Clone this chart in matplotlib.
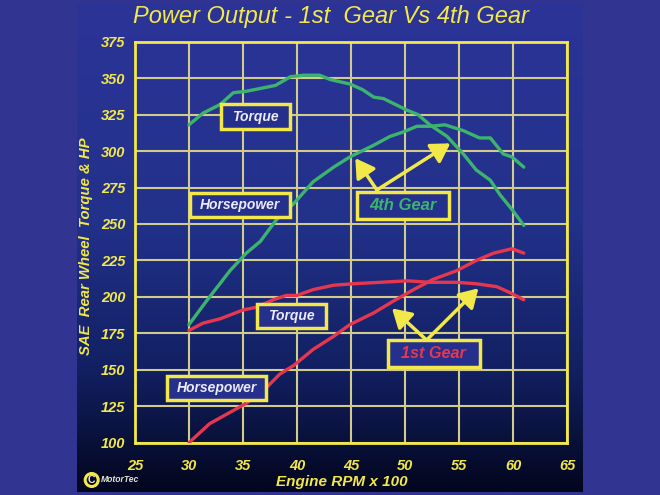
import numpy as np
import matplotlib.pyplot as plt
from matplotlib.colors import LinearSegmentedColormap
from matplotlib.patches import Rectangle, Ellipse

# engine rpm x 100 and rear wheel output
rpm_4th_tq = [30, 31.3, 32.9, 34.1, 35.3, 38.0, 39.4, 40.6, 42.1, 43.1, 44.9, 46.1,
              47.1, 48.0, 50.2, 51.2, 52.3, 53.9, 55.4, 56.6, 57.9, 58.8, 59.9, 61.0]
tq_4th = [318, 326, 332, 340, 341, 345, 351, 352, 352, 349, 346, 342,
          337, 336, 328, 325, 318, 310, 298, 287, 280, 270, 260, 249]

rpm_4th_hp = [30, 31.6, 33.8, 35.3, 36.6, 38.1, 39.7, 41.5, 43.4, 44.9, 47.1,
              48.6, 49.8, 51.1, 52.3, 53.7, 55.4, 56.9, 57.9, 59.1, 59.9, 61.0]
hp_4th = [181, 197, 218, 230, 238, 253, 264, 279, 289, 296, 304,
          310, 313, 317, 317, 318, 314, 309, 309, 298, 296, 289]

rpm_1st_tq = [30, 31.3, 32.9, 35.0, 36.3, 37.8, 39.0, 40.0, 41.5, 43.4,
              45.2, 47.7, 50.2, 52.3, 54.8, 56.6, 58.5, 59.7, 61.0]
tq_1st = [177, 182, 185, 191, 193, 198, 201, 201, 205, 208,
          209, 210, 211, 210, 210, 209, 207, 203, 198]

rpm_1st_hp = [30, 31.9, 35.3, 37.2, 38.4, 39.7, 41.5, 43.4, 44.9, 47.1,
              48.9, 50.8, 52.6, 54.8, 56.6, 58.2, 59.9, 61.0]
hp_1st = [100, 113, 127, 138, 147, 153, 164, 173, 181, 189,
          197, 205, 212, 218, 225, 230, 233, 230]

x_ticks = [25, 30, 35, 40, 45, 50, 55, 60, 65]
y_ticks = [100, 125, 150, 175, 200, 225, 250, 275, 300, 325, 350, 375]

YELLOW = '#f2e84a'
GRID = '#d2cc8c'
GREEN = '#3cb46e'
RED = '#e6374f'
BOXFACE = '#252f8c'
FONT = 'Liberation Sans'

fig = plt.figure(figsize=(6.6, 4.95), dpi=100, facecolor='#323491')

# gradient panel behind the chart
cmap = LinearSegmentedColormap.from_list(
    'panel', [(0.0, '#2c3498'), (0.45, '#22318a'), (0.75, '#122062'), (1.0, '#03061e')])
bg = fig.add_axes([77 / 660, 3 / 495, 506 / 660, 489 / 495])
bg.imshow(np.linspace(0, 1, 256).reshape(-1, 1), aspect='auto', cmap=cmap,
          extent=[0, 1, 0, 1])
bg.axis('off')

ax = fig.add_axes([135 / 660, 52.3 / 495, 432 / 660, 401 / 495])
ax.set_facecolor('none')
ax.set_xlim(25, 65)
ax.set_ylim(100, 375)
ax.set_xticks(x_ticks)
ax.set_yticks(y_ticks)
ax.grid(True, color=GRID, lw=1.5, zorder=1)
ax.set_axisbelow(True)
for s in ax.spines.values():
    s.set_color(YELLOW)
    s.set_linewidth(2)
ax.tick_params(length=0, labelcolor=YELLOW)
ax.tick_params(axis='y', pad=7)
ax.tick_params(axis='x', pad=12)
for lab in ax.get_xticklabels() + ax.get_yticklabels():
    lab.set_fontfamily(FONT)
    lab.set_fontstyle('italic')
    lab.set_fontweight('bold')
    lab.set_fontsize(10.5)

ax.plot(rpm_4th_tq, tq_4th, color=GREEN, lw=2.4, zorder=3, solid_capstyle='round')
ax.plot(rpm_4th_hp, hp_4th, color=GREEN, lw=2.4, zorder=3, solid_capstyle='round')
ax.plot(rpm_1st_tq, tq_1st, color=RED, lw=2.4, zorder=3, solid_capstyle='round')
ax.plot(rpm_1st_hp, hp_1st, color=RED, lw=2.4, zorder=3, solid_capstyle='round')

# label boxes: (x0, x1, y0, y1, text, colour, size)
boxes = [
    (32.96, 39.35, 314.9, 332.2, 'Torque', '#ececf6', 10),
    (30.09, 39.35, 255.0, 271.4, 'Horsepower', '#ececf6', 10),
    (45.53, 54.07, 253.2, 271.7, '4th Gear', GREEN, 12),
    (36.27, 42.69, 178.4, 195.1, 'Torque', '#ececf6', 10),
    (27.94, 37.13, 129.3, 145.9, 'Horsepower', '#ececf6', 10),
    (48.40, 56.94, 152.1, 170.4, '1st Gear', RED, 11.7),
]
for x0, x1, y0, y1, txt, col, fs in boxes:
    ax.add_patch(Rectangle((x0, y0), x1 - x0, y1 - y0, facecolor=BOXFACE,
                           edgecolor=YELLOW, lw=2.5, zorder=4, clip_on=False))
    ax.text((x0 + x1) / 2, (y0 + y1) / 2, txt, color=col, fontsize=fs,
            family=FONT, style='italic', weight='bold',
            ha='center', va='center', zorder=5)

arrows = [
    ((47.4, 273.3), (45.4, 295.1)),
    ((47.4, 273.3), (54.2, 305.3)),
    ((52.0, 170.4), (48.8, 192.1)),
    ((52.0, 170.4), (56.8, 205.9)),
]
for tail, head in arrows:
    ax.annotate('', xy=head, xytext=tail, zorder=6,
                arrowprops=dict(arrowstyle='-|>,head_length=0.75,head_width=0.45',
                                color=YELLOW, lw=2.5, mutation_scale=15,
                                shrinkA=0, shrinkB=0))

fig.text(331 / 660, 1 - 17 / 495, 'Power Output - 1st  Gear Vs 4th Gear',
         color=YELLOW, fontsize=17, family=FONT, style='italic',
         ha='center', va='center')
fig.text(342 / 660, 1 - 481.7 / 495, 'Engine RPM x 100', color=YELLOW,
         fontsize=11, family=FONT, style='italic', weight='bold',
         ha='center', va='center')
fig.text(85.7 / 660, 1 - 246 / 495, 'SAE  Rear Wheel  Torque & HP', color=YELLOW,
         fontsize=10.7, family=FONT, style='italic', weight='bold',
         rotation=90, ha='center', va='center')

# copyright mark
fig.patches.append(Ellipse((91.7 / 660, 1 - 480 / 495), 13 / 660, 13 / 495,
                           transform=fig.transFigure, facecolor='none',
                           edgecolor=YELLOW, lw=2.2))
fig.text(91.7 / 660, 1 - 480 / 495, 'C', color='#f4f0d0', fontsize=7.5,
         family=FONT, weight='bold', ha='center', va='center')
fig.text(101 / 660, 1 - 480 / 495, 'MotorTec', color='#e4e2d4', fontsize=6.2,
         family=FONT, style='italic', weight='bold', ha='left', va='center')

fig.savefig('out.png', dpi=100, facecolor=fig.get_facecolor())
